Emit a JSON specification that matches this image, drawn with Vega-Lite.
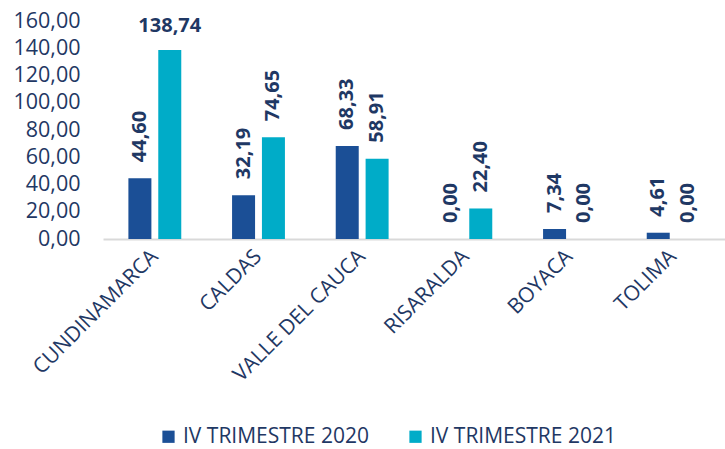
{
  "$schema": "https://vega.github.io/schema/vega-lite/v6.json",
  "width": 622,
  "height": 218,
  "autosize": {"type": "none"},
  "padding": {"left": 103, "top": 21, "right": 0, "bottom": 210},
  "background": "white",
  "config": {
    "locale": {"number": {"decimal": ",", "thousands": ".", "grouping": [3], "currency": ["$", ""]}},
    "view": {"stroke": null},
    "font": "Open Sans"
  },
  "data": {
    "values": [
      {"departamento": "CUNDINAMARCA", "serie": "IV TRIMESTRE 2020", "valor": 44.60},
      {"departamento": "CUNDINAMARCA", "serie": "IV TRIMESTRE 2021", "valor": 138.74},
      {"departamento": "CALDAS", "serie": "IV TRIMESTRE 2020", "valor": 32.19},
      {"departamento": "CALDAS", "serie": "IV TRIMESTRE 2021", "valor": 74.65},
      {"departamento": "VALLE DEL CAUCA", "serie": "IV TRIMESTRE 2020", "valor": 68.33},
      {"departamento": "VALLE DEL CAUCA", "serie": "IV TRIMESTRE 2021", "valor": 58.91},
      {"departamento": "RISARALDA", "serie": "IV TRIMESTRE 2020", "valor": 0.00},
      {"departamento": "RISARALDA", "serie": "IV TRIMESTRE 2021", "valor": 22.40},
      {"departamento": "BOYACA", "serie": "IV TRIMESTRE 2020", "valor": 7.34},
      {"departamento": "BOYACA", "serie": "IV TRIMESTRE 2021", "valor": 0.00},
      {"departamento": "TOLIMA", "serie": "IV TRIMESTRE 2020", "valor": 4.61},
      {"departamento": "TOLIMA", "serie": "IV TRIMESTRE 2021", "valor": 0.00}
    ]
  },
  "encoding": {
    "x": {
      "field": "departamento",
      "type": "nominal",
      "sort": null,
      "scale": {"paddingInner": 0.49, "paddingOuter": 0.245},
      "axis": {
        "title": null,
        "labelAngle": -45,
        "labelAlign": "right",
        "labelBaseline": "middle",
        "labelPadding": 14,
        "labelFont": "Open Sans",
        "labelFontSize": 21,
        "labelColor": "#1F3864",
        "labelLimit": 0,
        "ticks": false,
        "domainColor": "#D9D9D9",
        "domainWidth": 2,
        "grid": false
      }
    },
    "xOffset": {
      "field": "serie",
      "type": "nominal",
      "scale": {"paddingInner": 0.23}
    },
    "y": {
      "field": "valor",
      "type": "quantitative",
      "scale": {"domain": [0, 160], "nice": false},
      "axis": {
        "title": null,
        "values": [0, 20, 40, 60, 80, 100, 120, 140, 160],
        "format": ".2f",
        "domain": false,
        "ticks": false,
        "grid": false,
        "labelPadding": 23,
        "labelFont": "Open Sans",
        "labelFontSize": 21.5,
        "labelColor": "#1F3864"
      }
    }
  },
  "layer": [
    {
      "mark": {"type": "bar"},
      "encoding": {
        "color": {
          "field": "serie",
          "type": "nominal",
          "scale": {"domain": ["IV TRIMESTRE 2020", "IV TRIMESTRE 2021"], "range": ["#1B4F96", "#00ACC8"]},
          "legend": {
            "title": null,
            "orient": "none",
            "legendX": 55,
            "legendY": 405,
            "direction": "horizontal",
            "symbolType": "square",
            "symbolSize": 150,
            "symbolStrokeWidth": 0,
            "labelFont": "Open Sans",
            "labelFontSize": 21,
            "labelLimit": 0,
            "labelColor": "#1F3864",
            "columnPadding": 36
          }
        }
      }
    },
    {
      "transform": [{"filter": "datum.valor < 100"}],
      "mark": {"type": "text", "angle": 270, "align": "left", "baseline": "middle", "dx": 16, "font": "Open Sans", "fontSize": 20, "fontWeight": "bold", "color": "#1F3864"},
      "encoding": {
        "text": {"field": "valor", "type": "quantitative", "format": ".2f"}
      }
    },
    {
      "transform": [{"filter": "datum.valor >= 100"}],
      "mark": {"type": "text", "align": "center", "baseline": "bottom", "dy": -14, "font": "Open Sans", "fontSize": 20, "fontWeight": "bold", "color": "#1F3864"},
      "encoding": {
        "text": {"field": "valor", "type": "quantitative", "format": ".2f"}
      }
    }
  ]
}
